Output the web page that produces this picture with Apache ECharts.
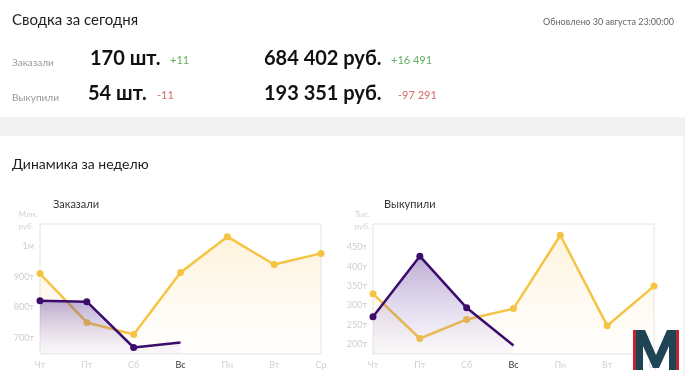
<!DOCTYPE html>
<html lang="ru">
<head>
    <meta charset="UTF-8">
    <title>Сводка</title>
    <style>
        html, body { margin: 0; padding: 0; background: #f2f2f2; }
        #main { width: 685px; height: 376px; }
    </style>
</head>
<body>
<div id="main"></div>
<script src="https://cdn.jsdelivr.net/npm/echarts@6/dist/echarts.min.js"></script>
<script>
    // days of the week
    var days = ['Чт', 'Пт', 'Сб', 'Вс', 'Пн', 'Вт', 'Ср'];
    var todayIndex = 3;

    // Заказали, rubles
    var orderedPrev = [910000, 752000, 713000, 913000, 1029000, 939000, 975000];
    var orderedCur = [822000, 819000, 671000, 687000];

    // Выкупили, rubles
    var boughtPrev = [330000, 215000, 264000, 292000, 481000, 248000, 350000];
    var boughtCur = [271000, 427000, 294000, 197000];

    // summary block
    var summaryRows = [
        {label: 'Заказали', count: '170 шт.', countDiff: '+11', sum: '684 402 руб.', sumDiff: '+16 491', up: true, countUp: true},
        {label: 'Выкупили', count: '54 шт.', countDiff: '-11', sum: '193 351 руб.', sumDiff: '-97 291', up: false, countUp: false}
    ];

    var font = 'Lato';
    var yellow = '#f5c445';
    var purple = '#3b0c6b';

    function fmtOrdered(v) {
        if (v % 100000 !== 0) return '';
        if (v >= 1000000) return (v / 1000000) + 'м';
        return (v / 1000) + 'т';
    }
    function fmtBought(v) {
        if (v % 50000 !== 0 || v > 450000) return '';
        return (v / 1000) + 'т';
    }

    function lastHidden(arr) {
        return arr.map(function (v, i) {
            return i === arr.length - 1 ? {value: v, symbolSize: 0} : v;
        });
    }

    var yellowArea = new echarts.graphic.LinearGradient(0, 0, 0, 1, [
        {offset: 0, color: 'rgba(250, 205, 110, 0.35)'},
        {offset: 1, color: 'rgba(255, 245, 225, 0.15)'}
    ]);
    var purpleArea = new echarts.graphic.LinearGradient(0, 0, 0, 1, [
        {offset: 0, color: 'rgba(80, 40, 140, 0.55)'},
        {offset: 1, color: 'rgba(150, 120, 200, 0.06)'}
    ]);

    function xAxisFor(gridIndex) {
        return {
            gridIndex: gridIndex,
            type: 'category',
            boundaryGap: false,
            data: days,
            axisLine: {show: false},
            axisTick: {show: false},
            axisLabel: {
                margin: 7,
                fontFamily: font,
                fontSize: 9,
                color: function (val, idx) {
                    return idx === todayIndex ? '#333' : '#d2d2d2';
                }
            }
        };
    }

    function yAxisFor(gridIndex, min, max, interval, fmt) {
        return {
            gridIndex: gridIndex,
            type: 'value',
            min: min,
            max: max,
            interval: interval,
            splitLine: {show: false},
            axisLine: {show: false},
            axisTick: {show: false},
            axisLabel: {
                margin: 6,
                fontFamily: font,
                fontSize: 9,
                color: '#cdcdcd',
                formatter: fmt
            }
        };
    }

    function seriesFor(idx, prev, cur) {
        return [
            {
                type: 'line',
                xAxisIndex: idx,
                yAxisIndex: idx,
                data: prev,
                symbol: 'circle',
                symbolSize: 7,
                lineStyle: {color: yellow, width: 2.5},
                itemStyle: {color: yellow},
                areaStyle: {color: yellowArea, origin: 'start'},
                z: 2
            },
            {
                type: 'line',
                xAxisIndex: idx,
                yAxisIndex: idx,
                data: lastHidden(cur),
                symbol: 'circle',
                symbolSize: 7,
                lineStyle: {color: purple, width: 2.5},
                itemStyle: {color: purple},
                areaStyle: {color: purpleArea, origin: 'start'},
                z: 3
            }
        ];
    }

    var graphics = [
        {type: 'rect', shape: {x: 0, y: 0, width: 685, height: 117}, style: {fill: '#fff'}, z: -10},
        {type: 'rect', shape: {x: 0, y: 136, width: 683, height: 240}, style: {fill: '#fff'}, z: -10},
        {type: 'text', left: 12, top: 13, style: {text: 'Сводка за сегодня', font: '15px Lato', fill: '#1e1e1e'}},
        {type: 'text', right: 11, top: 18, style: {text: 'Обновлено 30 августа 23:00:00', font: '9px Lato', fill: '#666'}},
        {type: 'text', left: 12, top: 157, style: {text: 'Динамика за неделю', font: '14px Lato', fill: '#1e1e1e'}},
        {type: 'text', left: 53, top: 199, style: {text: 'Заказали', font: '11px Lato', fill: '#333'}},
        {type: 'text', left: 384, top: 199, style: {text: 'Выкупили', font: '11px Lato', fill: '#333'}},
        {type: 'text', right: 648, top: 208, style: {text: 'Млн.\nруб.', font: '8px Lato', fill: '#d2d2d2', align: 'right', lineHeight: 12}},
        {type: 'text', right: 315, top: 208, style: {text: 'Тыс.\nруб.', font: '8px Lato', fill: '#d2d2d2', align: 'right', lineHeight: 12}}
    ];

    summaryRows.forEach(function (r, i) {
        var y = 49 + i * 35;
        var green = '#62b062', red = '#d76b6b';
        graphics.push({type: 'text', left: 12, top: y + 9, style: {text: r.label, font: '10px Lato', fill: '#999'}});
        graphics.push({type: 'text', left: i === 0 ? 90 : 88, top: y, style: {text: r.count, font: 'bold 20px Lato', fill: '#111'}});
        graphics.push({type: 'text', left: i === 0 ? 170 : 157, top: y + 6, style: {text: r.countDiff, font: '11px Lato', fill: r.countUp ? green : red}});
        graphics.push({type: 'text', left: 264, top: y, style: {text: r.sum, font: 'bold 20px Lato', fill: '#111'}});
        graphics.push({type: 'text', left: i === 0 ? 391 : 398, top: y + 6, style: {text: r.sumDiff, font: '11px Lato', fill: r.up ? green : red}});
    });

    // logo in the corner
    graphics.push(
        {type: 'rect', shape: {x: 633, y: 330, width: 7, height: 40}, style: {fill: '#c0262d'}, z: 20},
        {type: 'rect', shape: {x: 672, y: 330, width: 7, height: 40}, style: {fill: '#c0262d'}, z: 20},
        {type: 'polygon', shape: {points: [[636, 330], [645, 330], [656, 355], [667, 330], [676, 330], [676, 370], [669, 370], [669, 346], [659, 368], [653, 368], [643, 346], [643, 370], [636, 370]]}, style: {fill: '#1f4456'}, z: 21}
    );

    var chart = echarts.init(document.getElementById('main'));
    chart.setOption({
        animation: false,
        backgroundColor: '#f2f2f2',
        textStyle: {fontFamily: font},
        grid: [
            {left: 40, top: 224, width: 281, height: 130, show: true, borderColor: '#e4e4e4', borderWidth: 1, backgroundColor: 'transparent'},
            {left: 373, top: 224, width: 281, height: 130, show: true, borderColor: '#e4e4e4', borderWidth: 1, backgroundColor: 'transparent'}
        ],
        xAxis: [xAxisFor(0), xAxisFor(1)],
        yAxis: [
            yAxisFor(0, 650000, 1070000, 50000, fmtOrdered),
            yAxisFor(1, 175000, 510000, 25000, fmtBought)
        ],
        graphic: graphics,
        series: seriesFor(0, orderedPrev, orderedCur).concat(seriesFor(1, boughtPrev, boughtCur))
    });
</script>
</body>
</html>
